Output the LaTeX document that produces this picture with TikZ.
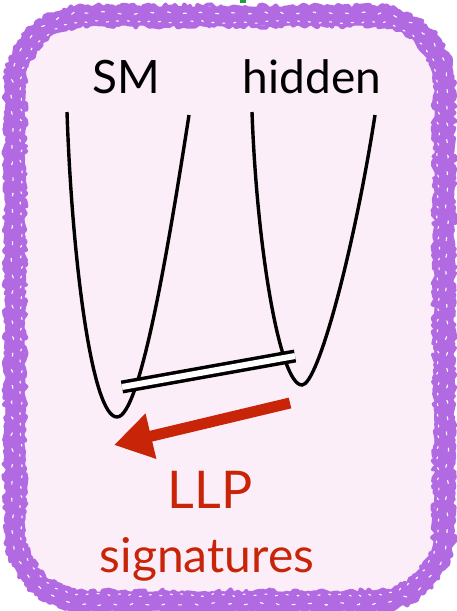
\documentclass[tikz,border=0pt]{standalone}
\usepackage{fontspec}
\setmainfont{Lato}
\usetikzlibrary{decorations.pathmorphing,arrows.meta}
\definecolor{bordpurple}{RGB}{178,106,226}
\definecolor{bgpink}{RGB}{252,238,248}
\definecolor{llpred}{RGB}{200,36,8}
\definecolor{markgreen}{RGB}{30,160,60}
% rounded rectangle path built from lines and arcs: x1,y1,x2,y2,r
\newcommand\myrrpath[5]{(#1+#5,#2) -- (#3-#5,#2) arc[start angle=-90, end angle=0, radius=#5]
  -- (#3,#4-#5) arc[start angle=0, end angle=90, radius=#5]
  -- (#1+#5,#4) arc[start angle=90, end angle=180, radius=#5]
  -- (#1,#2+#5) arc[start angle=180, end angle=270, radius=#5] -- cycle}
\tikzset{
  ragged/.style={bordpurple, line width=4pt, line join=round, decorate,
    decoration={random steps, segment length=3pt, amplitude=2.6pt}},
  speckle/.style={white, line width=1.1pt, line cap=round, dash pattern=on 2pt off 9pt,
    decorate, decoration={random steps, segment length=4pt, amplitude=1.5pt}},
  wire/.style={black, line width=3.4pt},
  labeltext/.style={black, font=\fontsize{46}{50}\selectfont, anchor=base},
  llptext/.style={llpred, anchor=base},
}
\begin{document}
\begin{tikzpicture}[x=1pt,y=-1pt]
\useasboundingbox (0,0) rectangle (457,611);
\pgfmathsetseed{7}
% background and rough border
\fill[bgpink] \myrrpath{15}{16}{444}{601}{70};
\draw[bordpurple, line width=19pt] \myrrpath{15}{16}{444}{601}{70};
\draw[ragged] \myrrpath{6}{7}{453}{610}{79};
\draw[ragged] \myrrpath{24}{25}{435}{592}{61};
\draw[speckle] \myrrpath{21}{22}{438}{595}{64};
\draw[speckle, dash pattern=on 3pt off 14pt] \myrrpath{12}{13}{447}{604}{73};
\fill[markgreen] (240,0) rectangle (246,2.5);
% labels
\node[labeltext] (sm) at (126,93) {SM};
\node[labeltext] (hidden) at (312,93) {hidden};
% potential wells
\coordinate (smL) at (67,112);
\coordinate (smB) at (117,417);
\coordinate (smR) at (189,115);
\coordinate (hdL) at (252,112);
\coordinate (hdB) at (302,385);
\coordinate (hdR) at (375,115);
\draw[wire] (smL) .. controls (72,260) and (92,417) .. (smB)
  .. controls (140,417) and (168,250) .. (smR);
\draw[wire] (hdL) .. controls (257,250) and (280,385) .. (hdB)
  .. controls (318,385) and (354,250) .. (hdR);
% double bar
\coordinate (barL) at (122,387);
\coordinate (barR) at (295,356);
\draw[black, line width=3.5pt, double=white, double distance=6pt] (barL) -- (barR);
% red arrow
\coordinate (arrTail) at (290,403);
\coordinate (arrTip) at (114,445);
\draw[llpred, line width=11pt, -{Triangle[length=38pt, width=44pt]}] (arrTail) -- (arrTip);
\node[llptext, font=\fontsize{52}{56}\selectfont] (llp) at (210,508) {LLP};
\node[llptext, font=\fontsize{48}{52}\selectfont] (sig) at (207,572) {signatures};
\end{tikzpicture}
\end{document}
